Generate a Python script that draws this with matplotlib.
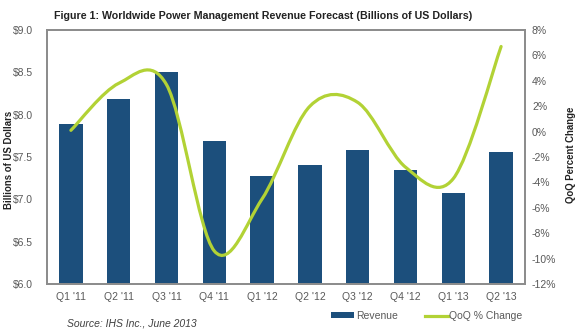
import matplotlib
matplotlib.use('Agg')
import matplotlib.pyplot as plt
from matplotlib.path import Path
from matplotlib.patches import PathPatch, Patch
from matplotlib.lines import Line2D
import numpy as np

plt.rcParams['font.family'] = ['Liberation Sans', 'DejaVu Sans']

quarters = ["Q1 '11", "Q2 '11", "Q3 '11", "Q4 '11", "Q1 '12",
            "Q2 '12", "Q3 '12", "Q4 '12", "Q1 '13", "Q2 '13"]
revenue = [7.89, 8.19, 8.50, 7.69, 7.28, 7.41, 7.58, 7.35, 7.08, 7.56]  # $bn
qoq_change = [0.1, 3.8, 3.7, -9.4, -5.3, 2.0, 2.3, -2.8, -3.7, 6.7]     # %

bar_col = '#1c4f7c'
line_col = '#b2d235'
grey = '#595959'

fig = plt.figure(figsize=(5.83, 3.33), dpi=100)
ax = fig.add_axes([47/583, 49/333, 478/583, 254/333])

x = np.arange(len(quarters))
ax.bar(x, revenue, width=0.49, color=bar_col, zorder=2)
ax.set_xlim(-0.5, len(quarters) - 0.5)
ax.set_ylim(6.0, 9.0)
ax.set_yticks(np.arange(6.0, 9.01, 0.5))
ax.set_yticklabels(['$%.1f' % v for v in np.arange(6.0, 9.01, 0.5)])
ax.set_xticks(x)
ax.set_xticklabels(quarters)
ax.tick_params(axis='x', length=0, labelsize=7.5, labelcolor=grey, pad=6)
ax.tick_params(axis='y', length=0, labelsize=7.5, labelcolor=grey, pad=10)

ax2 = ax.twinx()
ax2.set_ylim(-12, 8)
ax2.set_yticks(range(-12, 9, 2))
ax2.set_yticklabels(['%d%%' % v for v in range(-12, 9, 2)])
ax2.tick_params(length=0, labelsize=7.5, labelcolor=grey, pad=5)

for a in (ax, ax2):
    for s in a.spines.values():
        s.set_color('#8c8c8c')
        s.set_linewidth(1.3)

# axis titles placed by hand so they sit right at the figure edges
fig.text(9/583, 1 - 160/333, 'Billions of US Dollars', rotation=90, ha='center', va='center',
         fontsize=6.9, fontweight='bold', color='#222222')
fig.text(571/583, 1 - 155/333, 'QoQ Percent Change', rotation=90, ha='center', va='center',
         fontsize=6.9, fontweight='bold', color='#222222')

# smoothed line (bezier through each quarter, excel style)
pts = np.column_stack([x, qoq_change]).astype(float)
n = len(pts)
verts = [pts[0]]
codes = [Path.MOVETO]
for i in range(n - 1):
    p_prev = pts[max(i - 1, 0)]
    p_next2 = pts[min(i + 2, n - 1)]
    c1 = pts[i] + (pts[i + 1] - p_prev) / 6.0
    c2 = pts[i + 1] - (p_next2 - pts[i]) / 6.0
    verts += [c1, c2, pts[i + 1]]
    codes += [Path.CURVE4] * 3
ax2.add_patch(PathPatch(Path(verts, codes), facecolor='none',
                        edgecolor=line_col, linewidth=2.3, capstyle='round', zorder=3))

fig.text(0.452, 0.952, 'Figure 1: Worldwide Power Management Revenue Forecast (Billions of US Dollars)',
         ha='center', va='center', fontsize=7.7, fontweight='bold', color='#222222')
fig.text(67/583, 1 - 323/333, 'Source: IHS Inc., June 2013', ha='left', va='center',
         fontsize=7.5, style='italic', color='#404040')

handles = [Patch(facecolor=bar_col, edgecolor='none', label='Revenue'),
           Line2D([], [], color=line_col, linewidth=2.3, label='QoQ % Change')]
fig.legend(handles=handles, ncol=2, frameon=False, fontsize=7.5,
           loc='center left', bbox_to_anchor=(322/583, 1 - 316/333),
           handlelength=2.2, handleheight=0.5, handletextpad=0.15,
           columnspacing=2.6, labelcolor=grey)

fig.savefig('out.png', dpi=100)
